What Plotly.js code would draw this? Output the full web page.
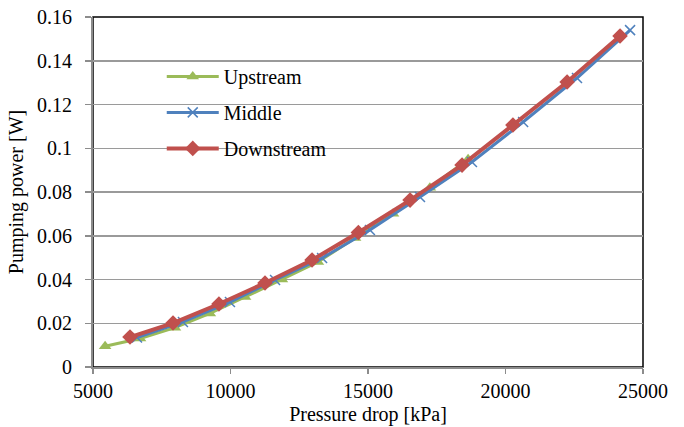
<!DOCTYPE html>
<html>
<head>
<meta charset="utf-8">
<script src="https://cdn.plot.ly/plotly-3.0.1.min.js"></script>
<style>
html,body{margin:0;padding:0;background:#fff;}
#chart{width:684px;height:427px;}
</style>
</head>
<body>
<div id="chart"></div>
<script>
// Data
const seriesNames = ["Upstream", "Middle", "Downstream"];

const upstreamX = [5440, 6710, 7980, 9250, 10530, 11870, 13180, 14530, 15910, 17250, 18640];
const upstreamY = [0.0095, 0.013, 0.018, 0.0245, 0.032, 0.040, 0.048, 0.059, 0.070, 0.082, 0.095];

const middleX = [6600, 8270, 9980, 11620, 13330, 15070, 16890, 18780, 20640, 22600, 24530];
const middleY = [0.0135, 0.0206, 0.0297, 0.0398, 0.0498, 0.0626, 0.0777, 0.0937, 0.112, 0.1321, 0.154];

const downstreamX = [6345, 7910, 9580, 11255, 12965, 14650, 16530, 18420, 20270, 22240, 24165];
const downstreamY = [0.0137, 0.0201, 0.0288, 0.0384, 0.0489, 0.0615, 0.0763, 0.0923, 0.1106, 0.1303, 0.1513];

const xTitle = "Pressure drop [kPa]";
const yTitle = "Pumping power [W]";

const FONT = "'Liberation Serif', 'Times New Roman', Times, serif";

const traces = [
  {
    x: upstreamX, y: upstreamY, name: seriesNames[0], type: "scatter", mode: "lines+markers",
    legendgroup: "g1",
    line: {color: "#9BBB59", width: 3},
    marker: {symbol: "triangle-up", size: 11, color: "#9BBB59"}
  },
  {
    x: middleX, y: middleY, name: seriesNames[1], type: "scatter", mode: "lines+markers",
    legendgroup: "g2",
    line: {color: "#4F81BD", width: 3},
    marker: {symbol: "x-thin", size: 10, line: {color: "#4F81BD", width: 1.5}, color: "#4F81BD"}
  },
  {
    x: downstreamX, y: downstreamY, name: seriesNames[2], type: "scatter", mode: "lines+markers",
    legendgroup: "g3",
    line: {color: "#C0504D", width: 4},
    marker: {symbol: "diamond", size: 12, color: "#C0504D"}
  }
];

const layout = {
  width: 684, height: 427,
  margin: {l: 93, r: 41, t: 17, b: 60},
  paper_bgcolor: "#fff", plot_bgcolor: "#fff",
  font: {family: FONT, size: 20, color: "#000"},
  showlegend: true,
  legend: {
    x: 0.125, y: 0.886, xanchor: "left", yanchor: "top",
    bgcolor: "rgba(0,0,0,0)", borderwidth: 0,
    font: {family: FONT, size: 20, color: "#000"},
    itemwidth: 52, tracegroupgap: 7, traceorder: "grouped"
  },
  xaxis: {
    range: [5000, 25000], dtick: 5000, tick0: 5000, tickformat: "d",
    showgrid: false, zeroline: false,
    showline: true, linecolor: "#8c8c8c", linewidth: 2,
    ticks: "outside", ticklen: 5, tickcolor: "#8c8c8c", tickwidth: 1.5,
    tickfont: {family: FONT, size: 20, color: "#000"},
    title: {text: xTitle, font: {family: FONT, size: 20, color: "#000"}, standoff: 6}
  },
  yaxis: {
    range: [0, 0.16], dtick: 0.02, tick0: 0,
    showgrid: true, gridcolor: "#9a9a9a", gridwidth: 1.5, zeroline: false,
    showline: true, linecolor: "#8c8c8c", linewidth: 2,
    ticks: "outside", ticklen: 6, tickcolor: "#8c8c8c", tickwidth: 1.5,
    ticklabelstandoff: 9,
    tickfont: {family: FONT, size: 20, color: "#000"},
    title: {text: yTitle, font: {family: FONT, size: 20, color: "#000"}, standoff: 8}
  },
  shapes: [
    {type: "rect", xref: "paper", yref: "paper", x0: 0, x1: 1, y0: 0, y1: 1,
     line: {color: "#000", width: 1.5}, layer: "below"}
  ]
};

Plotly.newPlot("chart", traces, layout, {displayModeBar: false, staticPlot: true});
</script>
</body>
</html>
